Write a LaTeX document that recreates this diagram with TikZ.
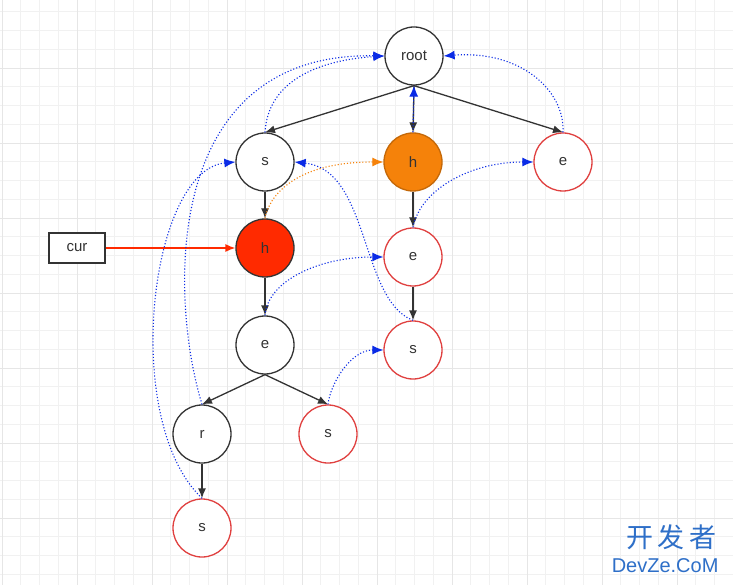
\documentclass[tikz,border=0pt]{standalone}
\usepackage{fontspec}
\setmainfont{Liberation Sans}
\newfontfamily\cjk{Noto Sans CJK SC}
\usetikzlibrary{arrows.meta}
\definecolor{gridc}{HTML}{F1F1F1}
\definecolor{gridm}{HTML}{E6E6E6}
\definecolor{dk}{HTML}{333333}
\definecolor{rd}{HTML}{E0403F}
\definecolor{og}{HTML}{F5820A}
\definecolor{rf}{HTML}{FF2A00}
\definecolor{bl}{HTML}{0A2BE6}
\definecolor{wm}{HTML}{2E6FC8}
\begin{document}
\begin{tikzpicture}[x=1pt,y=-1pt,
  nd/.style={circle,draw=dk,line width=1.3pt,minimum size=58pt,inner sep=0pt,font=\fontsize{15}{15}\selectfont,text=dk,fill=white},
  rn/.style={nd,draw=rd},
  tr/.style={-{Latex[length=10pt,width=8pt]},dk,line width=1.3pt},
  fl/.style={-{Latex[length=11pt,width=9pt]},bl,dotted,line width=1.1pt},
  ofl/.style={-{Latex[length=11pt,width=9pt]},og,dotted,line width=1.1pt}]
\fill[white] (0,0) rectangle (733,585);
\useasboundingbox (0,0) rectangle (733,585);
\foreach \i in {0,...,40} {\draw[gridc,line width=0.6pt] (2+\i*18.75,0) -- (2+\i*18.75,585);}
\foreach \i in {0,...,32} {\draw[gridc,line width=0.6pt] (0,-7+\i*18.75) -- (733,-7+\i*18.75);}
\foreach \i in {0,...,10} {\draw[gridm,line width=0.8pt] (2+\i*75,0) -- (2+\i*75,585);}
\foreach \i in {0,...,8} {\draw[gridm,line width=0.8pt] (0,-7+\i*75) -- (733,-7+\i*75);}
\node[nd] (root) at (414,56) {root};
\node[nd] (s1) at (265,162) {s};
\node[nd,fill=og,draw=og!80!black] (h1) at (413,162) {h};
\node[rn] (er) at (563,162) {e};
\node[nd,fill=rf] (h2) at (265,248) {h};
\node[rn] (e2) at (413,257) {e};
\node[nd] (e3) at (265,345) {e};
\node[rn] (s2) at (413,350) {s};
\node[nd] (r) at (202,434) {r};
\node[rn] (s3) at (328,434) {s};
\node[rn] (s4) at (202,528) {s};
\node[draw=dk,line width=1.1pt,minimum width=56pt,minimum height=30pt,inner sep=0pt,font=\fontsize{15}{15}\selectfont,text=dk,fill=white] (cur) at (77,248) {cur};
\draw[-{Latex[length=10pt,width=8pt]},rf,line width=1.3pt] (cur) -- (h2);
\draw[tr] (root.south) -- (s1.north);
\draw[tr] (root.south) -- (h1.north);
\draw[tr] (root.south) -- (er.north);
\draw[tr] (s1) -- (h2);
\draw[tr] (h1) -- (e2);
\draw[tr] (h2) -- (e3);
\draw[tr] (e2) -- (s2);
\draw[tr] (e3.south) -- (r.north);
\draw[tr] (e3.south) -- (s3.north);
\draw[tr] (r) -- (s4);
\draw[fl] (s1.north) .. controls (268,80) and (320,60) .. (root.west);
\draw[fl] (r.north) .. controls (170,300) and (160,52) .. (root.west);
\draw[fl] (s4.north) .. controls (120,420) and (150,170) .. (s1.west);
\draw[fl] (s2.north) .. controls (360,300) and (370,170) .. (s1.east);
\draw[fl] (h1.north) -- (root.south);
\draw[fl] (er.north) .. controls (565,90) and (520,50) .. (root.east);
\draw[fl] (e2.north) .. controls (420,190) and (470,162) .. (er.west);
\draw[fl] (e3.north) .. controls (268,280) and (320,257) .. (e2.west);
\draw[fl] (s3.north) .. controls (330,385) and (350,350) .. (s2.west);
\draw[ofl] (h2.north) .. controls (268,200) and (290,162) .. (h1.west);
\node[text=wm,font=\cjk\fontsize{27}{27}\selectfont,anchor=east] (wm1) at (720,537) {开\,发\,者};
\node[text=wm,font=\fontsize{20}{20}\selectfont,anchor=east] (wm2) at (722,566) {DevZe.CoM};
\end{tikzpicture}
\end{document}
